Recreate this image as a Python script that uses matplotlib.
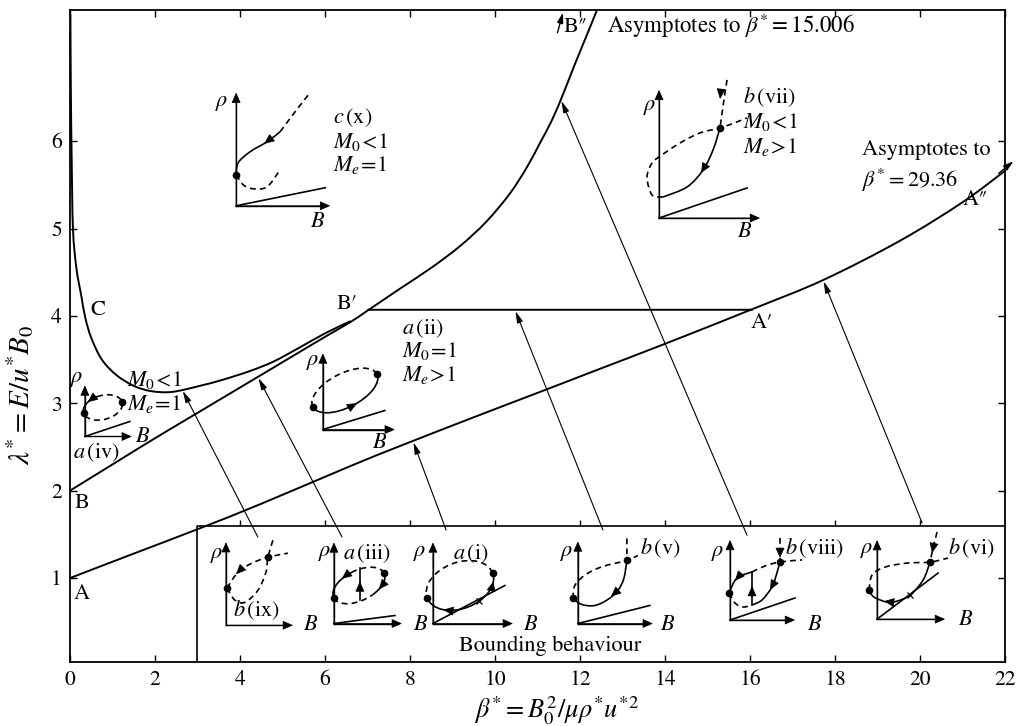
import matplotlib
matplotlib.use("Agg")
import matplotlib.pyplot as plt
import numpy as np
from matplotlib.patches import Arc, PathPatch
from matplotlib.path import Path
from matplotlib.transforms import Affine2D

plt.rcParams['font.family'] = 'STIXGeneral'
plt.rcParams['mathtext.fontset'] = 'stix'

a_beta = [0, 1.5, 3.06, 4.5, 6.59, 7.76, 9.5, 11.22, 12.5, 14.05, 16.07, 17.72, 19.53, 21.0, 22.0]
a_lam = [1.0, 1.28, 1.57, 1.85, 2.28, 2.51, 2.84, 3.16, 3.40, 3.69, 4.08, 4.41, 4.86, 5.30, 5.66]

b_beta = [0, 1, 2, 3, 4, 5, 6, 6.6, 7.0, 7.76, 8.5, 9.18, 9.8,
          10.35, 10.75, 11.06, 11.3, 11.53, 11.88, 12.15, 12.4]
b_lam = [2.0, 2.3, 2.6, 2.89, 3.18, 3.47, 3.76, 3.93, 4.06, 4.31, 4.55, 4.80, 5.08,
         5.40, 5.70, 5.98, 6.2, 6.45, 6.88, 7.2, 7.5]

c_beta = [0.01, 0.02, 0.04, 0.07, 0.15, 0.27, 0.36, 0.5, 0.75, 1.1, 1.5, 1.9, 2.4,
          3.06, 3.6, 4.24, 4.8, 5.41, 6.0, 6.6]
c_lam = [7.45, 6.6, 5.8, 5.0, 4.55, 4.22, 3.98, 3.75, 3.5, 3.32, 3.2, 3.14, 3.13,
         3.2, 3.27, 3.37, 3.48, 3.64, 3.80, 3.94]

# horizontal segment B'-A'
ba_beta = [7.0, 16.07]
ba_lam = [4.07, 4.07]

# pointer arrows: start of the arrow, beta where it meets a curve, which curve
ptr_start = [(4.42, 1.47), (6.4, 1.47), (8.85, 1.55), (12.54, 1.55), (15.93, 1.49), (20.05, 1.63)]
ptr_tip_beta = [2.64, 4.42, 8.07, 10.47, 11.55, 17.72]
ptr_curve = ['C', 'B', 'A', 'BA', 'B', 'A']

xticks = list(range(0, 23, 2))
yticks = [1, 2, 3, 4, 5, 6]
box_top = 1.6
box_ticks = [4, 6, 8, 10, 12, 14, 16, 18, 20]

PX_X, PX_Y = 42.5, 87.3   # pixels per unit on each axis, used for smoothing and the sketches
K = 'black'
DASH = (0, (3.5, 2.5))

fig = plt.figure(figsize=(10.23, 7.26), dpi=100)
ax = fig.add_axes((0.0684, 0.0882, 0.914, 0.898))
ax.set_xlim(0, 22)
ax.set_ylim(0.04, 7.5)
ax.set_xticks(xticks)
ax.set_yticks(yticks)
ax.tick_params(direction='in', top=True, right=True, length=5, width=1,
               labelsize=15.5, pad=6)
for s in ax.spines.values():
    s.set_linewidth(1.3)


def smooth_path(pts):
    # cubic Bezier chain passing through the given points
    p = np.asarray(pts, float)
    n = len(p)
    verts, codes = [p[0]], [Path.MOVETO]
    for i in range(n - 1):
        p0 = p[i - 1] if i > 0 else p[i]
        p3 = p[i + 2] if i + 2 < n else p[i + 1]
        verts += [p[i] + (p[i + 1] - p0) / 6, p[i + 1] - (p3 - p[i]) / 6, p[i + 1]]
        codes += [Path.CURVE4] * 3
    return Path(verts, codes)


# curves are smoothed in pixel-like units so both axes count equally
px_tr = Affine2D().scale(1 / PX_X, 1 / PX_Y) + ax.transData
curves = {'A': (a_beta, a_lam), 'B': (b_beta, b_lam), 'C': (c_beta, c_lam), 'BA': (ba_beta, ba_lam)}
for key in ['A', 'B', 'C', 'BA']:
    xs, ys = curves[key]
    pts = np.column_stack([np.asarray(xs) * PX_X, np.asarray(ys) * PX_Y])
    ax.add_patch(PathPatch(smooth_path(pts), fill=False, ec=K, lw=1.4, transform=px_tr))

# bounding-behaviour box
ax.plot([3, 3, 22], [0.04, box_top, box_top], color=K, lw=1.2)
ax.vlines(box_ticks, box_top, box_top + 0.07, color=K, lw=1)

for (xs, ys), xt, key in zip(ptr_start, ptr_tip_beta, ptr_curve):
    cx, cy = curves[key]
    yt = np.interp(xt, cx, cy)
    ax.annotate('', xy=(xt, yt), xytext=(xs, ys),
                arrowprops=dict(arrowstyle='-|>,head_length=0.7,head_width=0.18',
                                color=K, lw=0.8, shrinkA=0, shrinkB=1))

# asymptote arrows at the ends of the curves
ax.annotate('', xy=(11.6, 7.47), xytext=(11.47, 7.24),
            arrowprops=dict(arrowstyle='-|>,head_length=0.6,head_width=0.18',
                            color=K, lw=1, shrinkA=0, shrinkB=0), annotation_clip=False)
ax.annotate('', xy=(22.2, 5.77), xytext=(21.85, 5.63),
            arrowprops=dict(arrowstyle='-|>,head_length=0.6,head_width=0.18',
                            color=K, lw=1, shrinkA=0, shrinkB=0), annotation_clip=False)

fs = 16
ax.text(0.28, 0.82, 'A', fontsize=fs, ha='center', va='center')
ax.text(0.28, 1.86, 'B', fontsize=fs, ha='center', va='center')
ax.text(0.66, 4.07, 'C', fontsize=fs, ha='center', va='center')
ax.text(6.52, 4.13, 'B\u2032', fontsize=fs, ha='center', va='center')
ax.text(16.28, 3.92, 'A\u2032', fontsize=fs, ha='center', va='center')
ax.text(21.3, 5.33, 'A\u2033', fontsize=fs, ha='center', va='center')
ax.text(11.9, 7.3, 'B\u2033', fontsize=fs, ha='center', va='center')
ax.text(12.64, 7.32, r'Asymptotes to $\beta^{*}=15.006$', fontsize=16.5, ha='left', va='center')
ax.text(18.64, 5.9, 'Asymptotes to', fontsize=fs, ha='left', va='center')
ax.text(18.64, 5.55, r'$\beta^{*}=29.36$', fontsize=fs, ha='left', va='center')
ax.text(11.3, 0.22, 'Bounding behaviour', fontsize=fs, ha='center', va='center')

ax.set_xlabel(r'$\beta^{*}=B_0^2/\mu\rho^{*}u^{*2}$', fontsize=19)
ax.set_ylabel(r'$\lambda^{*}=E/u^{*}B_0$', fontsize=21)
ax.xaxis.set_label_coords(0.52, -0.05)
ax.yaxis.set_label_coords(-0.036, 0.41)


def epoint(e, t, dt=0.0):
    cx, cy, a, b, ang = e
    t, r = np.radians(t), np.radians(ang)
    u, v = a * np.cos(t), b * np.sin(t)
    if dt:
        u, v = -a * np.sin(t) * dt, b * np.cos(t) * dt
        cx = cy = 0
    return (cx + u * np.cos(r) - v * np.sin(r), cy + u * np.sin(r) + v * np.cos(r))


def head(tr, tail, tip):
    ax.annotate('', xy=tip, xytext=tail, xycoords=tr, textcoords=tr,
                arrowprops=dict(arrowstyle='-|>,head_length=0.45,head_width=0.2',
                                color=K, lw=0.6, shrinkA=0, shrinkB=0, mutation_scale=14))


def ehead(tr, e, t, sense):
    x, y = epoint(e, t)
    dx, dy = epoint(e, t, dt=sense)
    n = np.hypot(dx, dy)
    head(tr, (x - 5 * dx / n, y - 5 * dy / n), (x + 2 * dx / n, y + 2 * dy / n))


def sketch(origin, w, h, slope=None, paths=(), lines=(), arcs=(), dots=(), heads=(),
           eheads=(), crosses=(), texts=()):
    tr = Affine2D().scale(1 / PX_X, 1 / PX_Y).translate(*origin) + ax.transData
    head(tr, (0, 0), (0, h))
    head(tr, (0, 0), (w, 0))
    ax.plot([0, 0], [0, h - 4], color=K, lw=1, transform=tr)
    ax.plot([0, w - 4], [0, 0], color=K, lw=1, transform=tr)
    if slope:
        ax.plot([0, slope[0]], [0, slope[1]], color=K, lw=1.2, transform=tr)
    for pts, ls in paths:
        ax.add_patch(PathPatch(smooth_path(pts), fill=False, ec=K, lw=1.2, ls=ls, transform=tr))
    for pts, ls in lines:
        xs, ys = zip(*pts)
        ax.plot(xs, ys, color=K, lw=1.2, ls=ls, transform=tr)
    for e, t1, t2, ls in arcs:
        cx, cy, a, b, ang = e
        ax.add_patch(Arc((cx, cy), 2 * a, 2 * b, angle=ang, theta1=t1, theta2=t2,
                         ec=K, lw=1.2, ls=ls, transform=tr))
    for x, y in dots:
        ax.plot(x, y, 'o', color=K, ms=4.5, transform=tr)
    for tail, tip in heads:
        head(tr, tail, tip)
    for e, t, sense in eheads:
        ehead(tr, e, t, sense)
    for x, y in crosses:
        ax.plot(x, y, 'x', color=K, ms=5, mew=0.9, transform=tr)
    for x, y, s, ha in texts:
        ax.text(x, y, s, transform=tr, ha=ha, va='center', fontsize=16)


RHO, BB = r'$\rho$', r'$B$'

# c(x)
sketch((3.91, 5.26), 94, 113, slope=(89, 18),
       paths=[([(0, 31), (2, 43), (14, 54), (31, 64), (44, 74)], '-'),
              ([(44, 74), (56, 90), (66, 103), (74, 113)], DASH),
              ([(0, 31), (7, 21), (17, 17), (31, 19), (44, 36)], DASH)],
       dots=[(0, 31)], heads=[((36, 68), (28, 62))],
       texts=[(-14, 103, RHO, 'center'), (81, -16, BB, 'center'),
              (97, 88, r'$c\,(\mathrm{x})$', 'left'), (97, 64, r'$M_0\!<\!1$', 'left'),
              (97, 41, r'$M_e\!=\!1$', 'left')])

# a(iv)
e_iv = (18, 29, 20, 12, 15)
sketch((0.35, 2.62), 47, 51, slope=(45, 15),
       arcs=[(e_iv, 190, 450, DASH), (e_iv, 90, 190, '-')],
       dots=[epoint(e_iv, 180), epoint(e_iv, 0)], eheads=[(e_iv, 125, 1)],
       texts=[(-8, 57, RHO, 'center'), (50, -1, BB, 'left'),
              (-12, -16, r'$a\,(\mathrm{iv})$', 'left'),
              (42, 56, r'$M_0\!<\!1$', 'left'), (42, 32, r'$M_e\!=\!1$', 'left')])

# a(ii)
e_ii = (22, 39, 36, 17, 27)
sketch((5.95, 2.70), 72, 76, slope=(62, 19),
       arcs=[(e_ii, 0, 180, DASH), (e_ii, 180, 360, '-')],
       dots=[epoint(e_ii, 180), epoint(e_ii, 0)], eheads=[(e_ii, 275, 1)],
       texts=[(-10, 67, RHO, 'center'), (57, -14, BB, 'center'),
              (79, 101, r'$a\,(\mathrm{ii})$', 'left'), (79, 78, r'$M_0\!=\!1$', 'left'),
              (79, 54, r'$M_e\!>\!1$', 'left')])

# b(vii)
sketch((13.86, 5.12), 101, 128, slope=(88, 30),
       paths=[([(68, 138), (64, 112), (61, 90)], DASH),
              ([(61, 90), (54, 68), (44, 48), (28, 31), (4, 21)], '-'),
              ([(4, 21), (-7, 23), (-12, 41), (-7, 55), (0, 61), (21, 75), (41, 85),
                (61, 90), (78, 96), (88, 100)], DASH)],
       dots=[(61, 90)], heads=[((62, 128), (61, 119)), ((48, 55), (42, 45))],
       texts=[(-9, 111, RHO, 'center'), (86, -14, BB, 'center'),
              (84, 121, r'$b\,(\mathrm{vii})$', 'left'), (84, 96, r'$M_0\!<\!1$', 'left'),
              (84, 71, r'$M_e\!>\!1$', 'left')])

# b(ix)
sketch((3.67, 0.46), 67, 83,
       paths=[([(1, 37), (12, 53), (26, 62), (42, 68), (62, 72)], DASH),
              ([(1, 37), (9, 25), (19, 23), (32, 35), (40, 53), (42, 68), (47, 85)], DASH)],
       dots=[(1, 37), (42, 68)], heads=[((16, 57), (10, 51))],
       texts=[(-9, 70, RHO, 'center'), (77, 0, BB, 'left'), (7, 15, r'$b\,(\mathrm{ix})$', 'left')])

# a(iii)
e_iii = (25, 38, 28, 15, 26)
sketch((6.21, 0.48), 68, 81, slope=(61, 8),
       arcs=[(e_iii, 72, 180, '-'), (e_iii, 0, 72, DASH), (e_iii, 300, 360, '-'),
             (e_iii, 180, 300, DASH)],
       lines=[([(26, 23), (26, 55)], '-')],
       dots=[epoint(e_iii, 180), epoint(e_iii, 0)],
       heads=[((26, 34), (26, 42))], eheads=[(e_iii, 112, 1), (e_iii, 310, -1)],
       texts=[(-9, 70, RHO, 'center'), (79, -2, BB, 'left'), (9, 70, r'$a\,(\mathrm{iii})$', 'left')])

# a(i)
e_i = (27, 38, 35, 23, 21)
sketch((8.54, 0.48), 80, 81, slope=(72, 38),
       arcs=[(e_i, 0, 180, DASH), (e_i, 180, 360, '-')],
       dots=[epoint(e_i, 180), epoint(e_i, 0)],
       eheads=[(e_i, 230, -1), (e_i, 335, 1)], crosses=[epoint(e_i, 290)],
       texts=[(-13, 70, RHO, 'center'), (90, -2, BB, 'left'), (20, 70, r'$a\,(\mathrm{i})$', 'left')])

# b(v)
sketch((11.95, 0.48), 75, 82, slope=(72, 18),
       paths=[([(49, 85), (49, 63)], DASH),
              ([(49, 63), (46, 45), (40, 33), (30, 24), (17, 18), (4, 19), (-5, 25)], '-'),
              ([(-5, 25), (-3, 38), (8, 49), (25, 57), (49, 63), (60, 68)], DASH)],
       dots=[(49, 63), (-5, 25)], heads=[((40, 33), (33, 27))],
       texts=[(-11, 70, RHO, 'center'), (82, -2, BB, 'left'), (62, 75, r'$b\,(\mathrm{v})$', 'left')])

# b(viii)
sketch((15.53, 0.52), 65, 80, slope=(65, 22),
       paths=[([(50, 82), (50, 58)], DASH),
              ([(50, 58), (46, 44), (42, 33), (32, 20), (22, 15)], '-'),
              ([(-1, 27), (7, 42), (22, 48)], '-'),
              ([(22, 48), (35, 54), (50, 58), (72, 60)], DASH),
              ([(-1, 27), (5, 17), (13, 13), (22, 15)], DASH)],
       lines=[([(22, 15), (22, 48)], '-')],
       dots=[(50, 58), (-1, 27)],
       heads=[((50, 72), (50, 62)), ((45, 39), (40, 30)), ((22, 26), (22, 34)), ((10, 45), (5, 39))],
       texts=[(-12, 67, RHO, 'center'), (77, -5, BB, 'left'), (55, 72, r'$b\,(\mathrm{viii})$', 'left')])

# b(vi)
sketch((18.99, 0.53), 68, 79, slope=(61, 46),
       paths=[([(60, 87), (56, 71), (53, 57)], DASH),
              ([(53, 57), (46, 39), (33, 24), (20, 18), (10, 17), (-3, 22), (-8, 29)], '-'),
              ([(-8, 29), (-5, 44), (8, 52), (30, 56), (53, 57), (71, 61)], DASH)],
       dots=[(53, 57), (-8, 29)], heads=[((57, 76), (55, 66)), ((14, 17), (7, 18))],
       crosses=[(33, 24)],
       texts=[(-10, 69, RHO, 'center'), (81, -1, BB, 'left'), (71, 71, r'$b\,(\mathrm{vi})$', 'left')])

fig.savefig('out.png', dpi=100)
